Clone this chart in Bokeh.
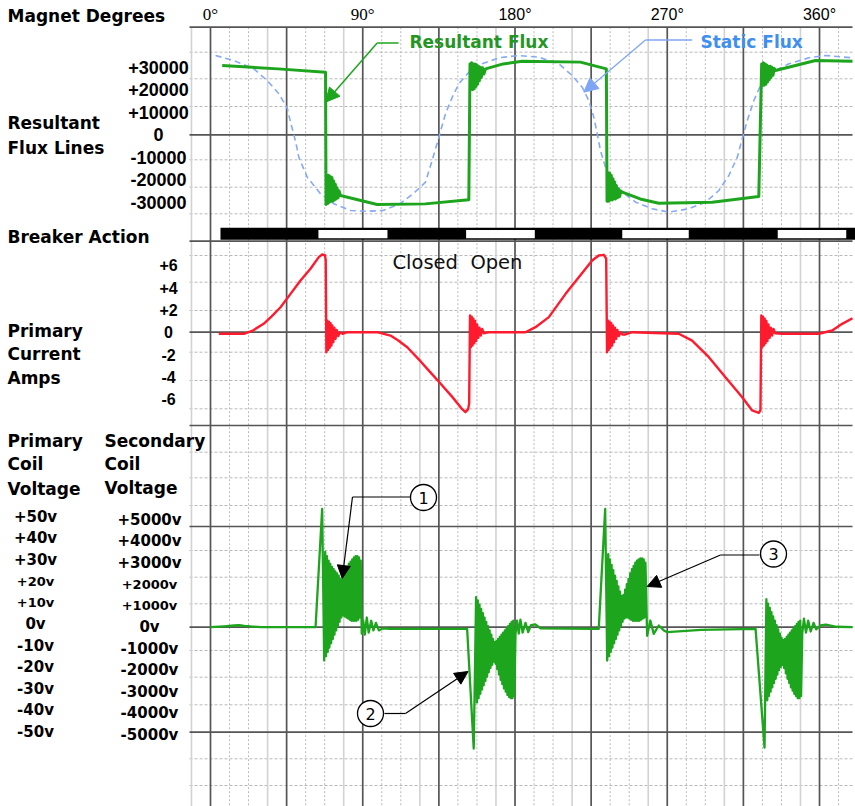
import numpy as np
from bokeh.plotting import figure
from bokeh.models import Range1d, Label, Arrow, NormalHead
from bokeh.embed import file_html
from bokeh.resources import INLINE

# ======================= DATA =======================
DEG_TICKS = [0, 90, 180, 270, 360]
DEG_TICK_LABELS = ["0\u00b0", "90\u00b0", "180\u00b0", "270\u00b0", "360\u00b0"]

FLUX_TICKS = [30000, 20000, 10000, 0, -10000, -20000, -30000]
FLUX_TICK_LABELS = ["+30000", "+20000", "+10000", "0", "-10000", "-20000", "-30000"]

CUR_TICKS = [6, 4, 2, 0, -2, -4, -6]
CUR_TICK_LABELS = ["+6", "+4", "+2", "0", "-2", "-4", "-6"]

SEC_V_TICKS = [5000, 4000, 3000, 2000, 1000, 0, -1000, -2000, -3000, -4000, -5000]
SEC_V_LABELS = ["+5000v", "+4000v", "+3000v", "+2000v", "+1000v", "0v",
                "-1000v", "-2000v", "-3000v", "-4000v", "-5000v"]
PRI_V_TICKS = [50, 40, 30, 20, 10, 0, -10, -20, -30, -40, -50]
PRI_V_LABELS = ["+50v", "+40v", "+30v", "+20v", "+10v", "0v",
                "-10v", "-20v", "-30v", "-40v", "-50v"]

# breaker action (degrees)
BREAKER_START = 5.9
BREAKER_END = 382.0
OPEN_START = [63.8, 151.1, 243.4, 335.3]
OPEN_END = [104.6, 191.7, 282.7, 375.8]

# static flux (dashed blue)
STATIC_DEG = [3.0, 13.8, 25.6, 33.5, 40.4, 45.3, 47.5, 49.3, 51.0, 52.2, 57.2, 65.0, 72.9,
              82.8, 92.6, 102.0, 111.9, 119.8, 127.1, 131.0, 135.0, 138.9, 142.9, 146.8,
              152.7, 160.6, 170.4, 182.2, 194.0, 205.9, 213.8, 219.7, 223.6, 226.6, 228.6,
              230.5, 233.5, 237.4, 243.4, 251.3, 261.1, 271.0, 282.8, 292.6, 300.5, 306.4,
              311.4, 314.3, 317.3, 321.2, 325.1, 332.0, 341.9, 353.7, 363.5, 379.5]
STATIC_FLUX = [35240, 33000, 29330, 24130, 18220, 12000, 5000, 0, -5500, -10000, -18840,
               -26220, -30670, -33640, -34000, -33640, -30670, -26220, -21060, -11420, -1070,
               9330, 16710, 22660, 27820, 31550, 34220, 35240, 34490, 31550, 26350, 21150,
               15240, 7820, 440, -6980, -14400, -20310, -25510, -29950, -32890, -34400,
               -32890, -29950, -24750, -18090, -9960, -1780, 6360, 15240, 21910, 27820,
               31550, 34220, 35240, 34220]

# resultant flux (green)
RES_DEG_1 = [6.9, 40.0, 68.0]
RES_FLUX_1 = [30800, 29300, 27800]
RES_DEG_2 = [68.3, 68.8, 69.3, 69.8, 70.3, 70.8, 71.3, 71.8, 72.3, 72.8, 73.3, 73.8, 74.3,
             74.8, 75.4, 76.0, 76.8]
RES_FLUX_2 = [-31000, -18500, -30500, -18000, -30000, -18500, -29500, -19000, -29500,
              -20500, -29000, -22000, -28500, -23500, -28000, -25000, -27000]
RES_DEG_3 = [98.5, 127.0, 152.7]
RES_FLUX_3 = [-31000, -30700, -28900]
RES_DEG_4 = [153.4, 153.9, 154.4, 154.9, 155.4, 155.9, 156.4, 156.9, 157.4, 157.9, 158.4,
             158.9, 159.5, 160.1, 160.8, 161.6, 162.6]
RES_FLUX_4 = [31500, 20500, 32000, 20000, 31500, 20500, 31500, 21500, 31000, 22500, 30500,
              24000, 30000, 25500, 29800, 27000, 29300]
RES_DEG_5 = [173.0, 184.2, 218.7, 234.0]
RES_FLUX_5 = [31500, 32700, 32300, 29300]
RES_DEG_6 = [234.4, 234.9, 235.4, 235.9, 236.4, 236.9, 237.4, 237.9, 238.4, 238.9, 239.4,
             239.9, 240.5, 241.1, 241.8, 242.6, 243.4]
RES_FLUX_6 = [-29500, -17500, -29500, -17000, -29000, -18000, -29000, -19500, -28500,
              -21000, -28500, -22500, -28000, -24000, -27500, -25000, -25500]
RES_DEG_7 = [254.0, 265.0, 296.6, 324.1]
RES_FLUX_7 = [-28500, -30400, -30000, -27400]
RES_DEG_8 = [325.8, 326.3, 326.8, 327.3, 327.8, 328.3, 328.8, 329.3, 329.8, 330.3, 330.8,
             331.3, 331.9, 332.5, 333.2, 334.0]
RES_FLUX_8 = [31500, 22000, 32000, 22000, 31500, 22500, 31000, 23500, 30500, 24500, 30500,
              25500, 30000, 26500, 29500, 28600]
RES_DEG_9 = [357.6, 379.5]
RES_FLUX_9 = [33000, 32700]

# primary current (red)
CUR_DEG_1 = [4.9, 19.7, 25.0, 31.4, 36.0, 41.4, 47.3, 53.2, 59.1, 64.0, 66.0, 67.6, 68.1]
CUR_AMP_1 = [-0.14, -0.14, 0.15, 0.75, 1.4, 2.24, 3.44, 4.64, 5.69, 6.73, 6.97, 6.9, 6.5]
CUR_DEG_2 = [68.5, 69.0, 69.5, 70.0, 70.5, 71.0, 71.5, 72.0, 72.6, 73.2, 73.9, 74.6, 75.5,
             76.5, 78.0, 80.8]
CUR_AMP_2 = [-1.8, 1.05, -1.6, 0.95, -1.4, 0.8, -1.2, 0.6, -0.9, 0.4, -0.6, 0.2, -0.35, 0.0,
             -0.15, 0.0]
CUR_DEG_3 = [98.5, 106.4, 111.0, 116.3, 124.1, 130.0, 135.0, 142.9, 148.8, 150.7, 152.3, 152.9]
CUR_AMP_3 = [0.0, -0.3, -0.75, -1.35, -2.6, -3.6, -4.45, -5.8, -6.9, -7.17, -6.9, -6.4]
CUR_DEG_4 = [153.4, 153.9, 154.4, 154.9, 155.4, 155.9, 156.4, 157.0, 157.6, 158.3, 159.0,
             159.8, 160.6, 161.6, 164.5]
CUR_AMP_4 = [1.5, -1.35, 1.4, -1.2, 1.2, -1.0, 1.0, -0.8, 0.7, -0.5, 0.4, -0.3, 0.3, -0.1, 0.0]
CUR_DEG_5 = [186.2, 192.1, 200.0, 209.9, 217.7, 225.6, 229.5, 232.5, 233.9]
CUR_AMP_5 = [0.0, 0.45, 1.35, 3.44, 4.93, 6.43, 6.88, 6.94, 6.6]
CUR_DEG_6 = [234.4, 234.9, 235.4, 235.9, 236.4, 236.9, 237.4, 237.9, 238.5, 239.1, 239.8,
             240.5, 241.4, 242.4, 243.5, 245.3, 249.3]
CUR_AMP_6 = [-1.8, 1.05, -1.6, 0.95, -1.4, 0.8, -1.2, 0.6, -0.9, 0.4, -0.6, 0.2, -0.35, 0.0,
             -0.2, -0.2, 0.0]
CUR_DEG_7 = [276.8, 284.7, 294.6, 304.4, 314.3, 320.2, 324.1, 325.1]
CUR_AMP_7 = [-0.14, -0.75, -2.24, -4.04, -5.83, -7.02, -7.23, -7.0]
CUR_DEG_8 = [325.6, 326.1, 326.6, 327.1, 327.6, 328.1, 328.6, 329.2, 329.8, 330.5, 331.2,
             332.0, 332.8, 333.8, 338.0]
CUR_AMP_8 = [1.5, -1.35, 1.4, -1.2, 1.2, -1.0, 1.0, -0.8, 0.7, -0.5, 0.4, -0.3, 0.3, -0.1, -0.14]
CUR_DEG_9 = [359.6, 367.5, 373.4, 379.5]
CUR_AMP_9 = [-0.14, 0.15, 0.75, 1.25]

# secondary coil voltage (green)
VOLT_DEG_0 = [0.0, 8.0, 14.0, 17.0, 20.0, 30.0, 62.1]
VOLT_V_0 = [0, 40, 80, 90, 60, 0, 0]
VOLT_DEG_A = [66.0, 67.2, 67.8, 68.3, 68.8, 69.3, 69.8, 70.3, 70.8, 71.3, 71.8, 72.3, 72.8,
              73.3, 73.8, 74.3, 74.8, 75.3, 75.8, 76.3, 76.8, 77.3, 77.8, 78.3, 78.8, 79.3,
              79.8, 80.3, 80.8, 81.3, 81.8, 82.3, 82.8, 83.3, 83.8, 84.3, 84.8, 85.3, 85.8,
              86.3, 86.8, 87.3, 87.8, 88.3, 88.8]
VOLT_V_A = [5500, -1550, 3500, -1350, 3300, -1150, 3100, -950, 2950, -750, 2800, -550, 2700,
            -350, 2600, -150, 2500, 50, 2400, 250, 2250, 450, 2200, 550, 2400, 500, 2600, 450,
            2800, 400, 2950, 350, 3050, 300, 3150, 300, 3250, 300, 3300, 300, 3300, 350, 3250,
            450, 3100]
VOLT_DEG_A2 = [89.4, 90.3, 91.2, 92.4, 93.5, 95.0, 96.3, 97.8, 99.5, 102.0, 106.0, 130.0, 151.7]
VOLT_V_A2 = [-300, 300, -350, 450, -250, 300, -150, 200, -150, -50, -80, -77, -77]
VOLT_DEG_B = [155.6, 157.0, 157.5, 158.0, 158.5, 159.0, 159.5, 160.0, 160.5, 161.0, 161.5,
              162.0, 162.5, 163.0, 163.5, 164.0, 164.5, 165.0, 165.5, 166.0, 166.5, 167.0,
              167.5, 168.0, 168.5, 169.0, 169.5, 170.0, 170.5, 171.0, 171.5, 172.0, 172.5,
              173.0, 173.5, 174.0, 174.5, 175.0, 175.5, 176.0, 176.5, 177.0, 177.5, 178.0,
              178.5, 179.0, 179.6]
VOLT_V_B = [-5650, 1400, -3500, 1250, -3300, 1050, -3100, 850, -2900, 650, -2700, 450, -2500,
            250, -2300, 50, -2100, -150, -1900, -350, -1750, -550, -1600, -700, -1700, -650,
            -1950, -550, -2200, -450, -2450, -350, -2650, -250, -2850, -150, -3000, -50, -3150,
            50, -3250, 150, -3300, 250, -3300, 300, -3200]
VOLT_DEG_B2 = [180.3, 181.2, 182.2, 183.2, 184.5, 186.2, 187.8, 189.5, 192.0, 195.0, 225.6, 229.5]
VOLT_V_B2 = [-310, 300, -300, 350, -250, 200, -230, 100, 130, -50, -77, -77]
VOLT_DEG_C = [233.3, 234.5, 235.1, 235.6, 236.1, 236.6, 237.1, 237.6, 238.1, 238.6, 239.1,
              239.6, 240.1, 240.6, 241.1, 241.6, 242.1, 242.6, 243.1, 243.6, 244.1, 244.6,
              245.1, 245.6, 246.1, 246.6, 247.1, 247.6, 248.1, 248.6, 249.1, 249.6, 250.1,
              250.6, 251.1, 251.6, 252.1, 252.6, 253.1, 253.6, 254.1, 254.6, 255.1, 255.6,
              256.1, 256.6, 257.1]
VOLT_V_C = [5500, -1550, 3400, -1350, 3150, -1150, 2900, -950, 2650, -750, 2400, -550, 2150,
            -350, 1900, -150, 1650, 50, 1450, 250, 1500, 400, 1750, 450, 2000, 450, 2250, 400,
            2500, 350, 2700, 300, 2850, 300, 3000, 300, 3100, 300, 3150, 300, 3200, 350, 3200,
            400, 3150, 450, 3000]
VOLT_DEG_C2 = [258.1, 260.0, 262.0, 265.0, 268.0, 270.0, 290.0, 322.2]
VOLT_V_C2 = [-400, 310, -310, 80, -150, -232, -120, -77]
VOLT_DEG_D = [327.5, 328.6, 329.1, 329.6, 330.1, 330.6, 331.1, 331.6, 332.1, 332.6, 333.1,
              333.6, 334.1, 334.6, 335.1, 335.6, 336.1, 336.6, 337.1, 337.6, 338.1, 338.6,
              339.1, 339.6, 340.1, 340.6, 341.1, 341.6, 342.1, 342.6, 343.1, 343.6, 344.1,
              344.6, 345.1, 345.6, 346.1, 346.6, 347.1, 347.6, 348.1, 348.6, 349.1]
VOLT_V_D = [-5600, 1300, -3400, 1100, -3200, 900, -3000, 700, -2800, 500, -2600, 300, -2400,
            100, -2200, -100, -2000, -300, -1850, -500, -1750, -600, -1900, -550, -2150, -450,
            -2400, -350, -2600, -250, -2800, -150, -2950, -50, -3100, 50, -3200, 150, -3300,
            250, -3300, 300, -3200]
VOLT_DEG_D2 = [349.8, 350.8, 352.0, 353.3, 354.8, 356.5, 358.0, 360.5, 363.8, 370.0, 379.5]
VOLT_V_D2 = [-300, 400, -250, 300, -200, 200, -100, 80, 125, 20, 0]

# ======================= LAYOUT / STYLE =======================
W, H = 855, 806
PX0, PXD = 210.0, 1.6917          # page x of 0 deg, pixels per degree
GL, GR, GT, GB = 189.0, 852.0, 26.7, 806.0   # grid box (page px)


def dx(px):
    return (px - PX0) / PXD


FLUX_Y0, FLUX_S = 134.3, 22.5 / 10000.0
CUR_Y0, CUR_S = 331.7, 11.15
VOLT_Y0, VOLT_S = 626.7, 21.5 / 1000.0


def prange(y0, s):
    return Range1d(start=(y0 - H) / s, end=(y0 - 0) / s)


GREEN = "#1da51d"
RED = "#ff1a2e"
BLUE = "#86aaf8"
BLUE_T = "#3f8ff0"
GREEN_T = "#239623"
WORD_FONT = "DejaVu Sans"
NUM_FONT = "Liberation Sans"

p = figure(width=W, height=H, title=None,
           x_range=Range1d(dx(0), dx(W)), y_range=Range1d(H, 0),
           output_backend="svg", toolbar_location=None,
           x_axis_location=None, y_axis_location=None,
           min_border=0, min_border_left=0, min_border_right=0,
           min_border_top=0, min_border_bottom=0,
           outline_line_color=None, background_fill_color="white",
           border_fill_color="white")
p.xgrid.visible = False
p.ygrid.visible = False
p.extra_y_ranges = {"flux": prange(FLUX_Y0, FLUX_S),
                    "cur": prange(CUR_Y0, CUR_S),
                    "volt": prange(VOLT_Y0, VOLT_S)}

# vertical grid (degrees)
V_DOT = sorted([11.25 + 45 * k for k in range(9)] + [22.5 + 45 * k for k in range(8)])
V_LIGHT = [-11.25 + 45 * k for k in range(9)]
V_MAJOR = [45 * k for k in range(9)]
# horizontal grid (page rows)
H_MINOR = [51.7, 78.3, 106.0, 159.3, 186.7, 213.3, 255.0, 281.7, 310.0, 351.7, 380.0,
           408.3, 451.7, 477.3, 505.0, 550.0, 576.7, 603.3, 650.0, 676.7, 704.3, 758.3, 785.0]
H_MAJOR = [26.7, 134.3, 240.7, 331.7, 425.0, 526.0, 626.7, 731.7]


def vgrid(ticks, color, width, dash="solid"):
    n = len(ticks)
    p.segment(x0=ticks, y0=[GT] * n, x1=ticks, y1=[GB] * n, line_color=color,
              line_width=width, line_dash=dash)


def hgrid(rows, color, width, dash="solid"):
    n = len(rows)
    p.segment(x0=[dx(GL)] * n, y0=rows, x1=[dx(GR)] * n, y1=rows, line_color=color,
              line_width=width, line_dash=dash)


vgrid(V_DOT, "#b9b9b9", 1, "2 2")
hgrid(H_MINOR, "#b9b9b9", 1, "3 2")
vgrid(V_LIGHT, "#d2d2d2", 1.6)
vgrid(V_MAJOR, "#555555", 1.7)
hgrid(H_MAJOR, "#555555", 1.7)

# breaker action bar
p.quad(left=[BREAKER_START], right=[BREAKER_END], top=[227.3], bottom=[239.3],
       fill_color="black", line_color=None)
p.quad(left=OPEN_START, right=OPEN_END, top=[229.5] * 4, bottom=[237.8] * 4,
       fill_color="white", line_color=None)

# curves
p.line(STATIC_DEG, STATIC_FLUX, y_range_name="flux", color=BLUE, line_width=1.6,
       line_dash="6 4")
res_deg = RES_DEG_1 + RES_DEG_2 + RES_DEG_3 + RES_DEG_4 + RES_DEG_5 + RES_DEG_6 + RES_DEG_7 + RES_DEG_8 + RES_DEG_9
res_flux = RES_FLUX_1 + RES_FLUX_2 + RES_FLUX_3 + RES_FLUX_4 + RES_FLUX_5 + RES_FLUX_6 + RES_FLUX_7 + RES_FLUX_8 + RES_FLUX_9
p.line(res_deg, res_flux, y_range_name="flux", color=GREEN, line_width=3, line_join="round")

cur_deg = CUR_DEG_1 + CUR_DEG_2 + CUR_DEG_3 + CUR_DEG_4 + CUR_DEG_5 + CUR_DEG_6 + CUR_DEG_7 + CUR_DEG_8 + CUR_DEG_9
cur_amp = CUR_AMP_1 + CUR_AMP_2 + CUR_AMP_3 + CUR_AMP_4 + CUR_AMP_5 + CUR_AMP_6 + CUR_AMP_7 + CUR_AMP_8 + CUR_AMP_9
p.line(cur_deg, cur_amp, y_range_name="cur", color=RED, line_width=2.4, line_join="round")

volt_deg = VOLT_DEG_0 + VOLT_DEG_A + VOLT_DEG_A2 + VOLT_DEG_B + VOLT_DEG_B2 + VOLT_DEG_C + VOLT_DEG_C2 + VOLT_DEG_D + VOLT_DEG_D2
volt_v = VOLT_V_0 + VOLT_V_A + VOLT_V_A2 + VOLT_V_B + VOLT_V_B2 + VOLT_V_C + VOLT_V_C2 + VOLT_V_D + VOLT_V_D2
p.line(volt_deg, volt_v, y_range_name="volt", color=GREEN, line_width=2.3, line_join="round")


def text(x, y, t, size, font=WORD_FONT, style="bold", color="black", align="left",
         yr="default", yoff=0):
    p.add_layout(Label(x=x, y=y, text=t, y_range_name=yr, text_font=font,
                       text_font_size=size, text_font_style=style, text_color=color,
                       text_align=align, text_baseline="middle", y_offset=yoff))


# left titles
for t, px, py in [("Magnet Degrees", 7, 15.5), ("Resultant", 7, 122), ("Flux Lines", 7, 147),
                  ("Breaker Action", 7, 236), ("Primary", 7, 330), ("Current", 7, 353),
                  ("Amps", 7, 377), ("Primary", 7, 440), ("Coil", 7, 463),
                  ("Voltage", 7, 488), ("Secondary", 104, 440), ("Coil", 104, 463),
                  ("Voltage", 104, 487)]:
    text(dx(px), py, t, "17px")

# degree labels
for d, t in zip(DEG_TICKS, DEG_TICK_LABELS):
    serif = d < 100
    text(d, 14, t, "17px" if serif else "16px",
         font="Liberation Serif" if serif else NUM_FONT, style="normal", align="center")

for v, t in zip(FLUX_TICKS, FLUX_TICK_LABELS):
    text(dx(158), v, t, "18px", font=NUM_FONT, align="center", yr="flux")
for v, t in zip(CUR_TICKS, CUR_TICK_LABELS):
    text(dx(168), v, t, "16px", font=NUM_FONT, align="center", yr="cur")
for v, t in zip(SEC_V_TICKS, SEC_V_LABELS):
    small = v in (1000, 2000)
    text(dx(149), v, t, "13px" if small else "15px", align="center", yr="volt")
for v, t in zip(PRI_V_TICKS, PRI_V_LABELS):
    small = v in (10, 20)
    text(dx(35), v * 100, t, "13px" if small else "15px", align="center", yr="volt",
         yoff=3)

text(dx(392), 262, "Closed\u00a0\u00a0Open", "19.5px", style="normal", color="#101010")
text(dx(409), 41.7, "Resultant Flux", "17px", color=GREEN_T)
text(dx(700), 41.7, "Static Flux", "17px", color=BLUE_T)


def leader(x0, y0, xk, yk, tx, ty, color, width=1.2, dash="solid", head=13):
    p.line([dx(x0), dx(xk)], [y0, yk], color=color, line_width=width, line_dash=dash)
    p.add_layout(Arrow(end=NormalHead(size=head, fill_color=color, line_color=color),
                       x_start=dx(xk), y_start=yk, x_end=dx(tx), y_end=ty,
                       line_color=color, line_width=width))


leader(398, 42.5, 376.7, 42.5, 325, 101.7, GREEN, width=1.5, head=14)
leader(691.7, 39.5, 645, 39.5, 583.3, 91.7, "#7fa6f5", width=1.3, head=14)
leader(410, 496.5, 352, 496.5, 341.7, 578, "black", head=13)
leader(384, 713, 405, 713, 467.5, 671, "black", head=13)
leader(759, 554.5, 720, 554.5, 646.7, 586, "black", head=13)

for n, cx, cy in [("1", 423, 497), ("2", 370, 713), ("3", 773, 553.5)]:
    p.scatter([dx(cx)], [cy], marker="circle", size=26, fill_color="white",
              line_color="black", line_width=1.3)
    text(dx(cx), cy, n, "16px", style="normal", align="center")

open("out.html", "w").write(file_html(p, INLINE))
